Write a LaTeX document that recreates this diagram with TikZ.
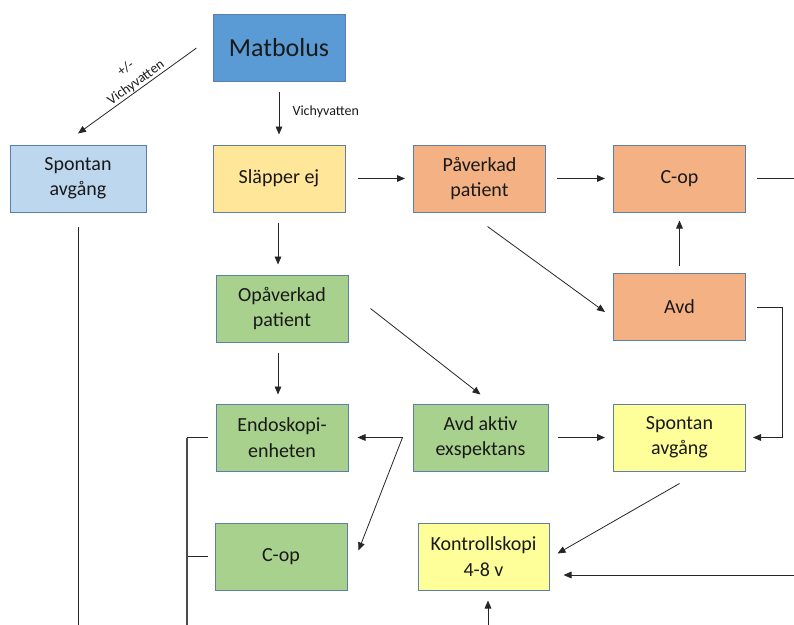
\documentclass[tikz,border=0pt]{standalone}
\usepackage{fontspec}
\setmainfont{Carlito}
\usepackage{xcolor}
\usepackage{tikz}
\usetikzlibrary{arrows.meta,calc,positioning}

\definecolor{mbBlue}{HTML}{5B9BD5}
\definecolor{ljusBlue}{HTML}{BDD7EE}
\definecolor{gulOrange}{HTML}{FFE699}
\definecolor{orange1}{HTML}{F4B183}
\definecolor{gron}{HTML}{A9D18E}
\definecolor{gul}{HTML}{FFFF99}
\definecolor{kant}{HTML}{5A7FAE}

\tikzset{
  box/.style={draw=kant, line width=0.75pt, minimum width=99pt, minimum height=50.25pt,
    align=center, inner sep=2pt, text=black!90, font=\fontsize{15}{19}\selectfont},
  arr/.style={-{Triangle[length=6pt,width=5pt]}, line width=0.6pt, black!85},
  ln/.style={line width=0.6pt, black!85},
  lbl/.style={font=\fontsize{10.5}{12}\selectfont, text=black!90, inner sep=1pt}
}

\begin{document}
\begin{tikzpicture}[x=0.75pt,y=-0.75pt]

\useasboundingbox (0,0) rectangle (794,625);

% boxes
\node[box, fill=mbBlue, font=\fontsize{19.5}{22}\selectfont] (matbolus) at (279,48) {Matbolus};
\node[box, fill=ljusBlue, minimum width=102pt] (spontanA) at (78,178.5) {Spontan\\avgång};% left
\node[box, fill=gulOrange] (slapper) at (279,178.5) {Släpper ej};
\node[box, fill=orange1] (paverkad) at (479.5,178.5) {Påverkad\\patient};
\node[box, fill=orange1] (copA) at (679.5,178.5) {C-op};% top
\node[box, fill=orange1] (avd) at (679.5,307) {Avd};
\node[box, fill=gron] (opaverkad) at (282,308.5) {Opåverkad\\patient};
\node[box, fill=gron] (endo) at (282,437.5) {Endoskopi-\\enheten};
\node[box, fill=gron, minimum width=101.25pt] (aktiv) at (480.5,437.5) {Avd aktiv\\exspektans};
\node[box, fill=gul] (spontanB) at (679.5,437.5) {Spontan\\avgång};% right
\node[box, fill=gron] (copB) at (281,556.5) {C-op};% bottom
\node[box, fill=gul, minimum width=98.25pt] (kontroll) at (483.5,556.5) {Kontrollskopi\\4-8 v};

% free ends at the edges
\coordinate (outA) at (794,178.5);
\coordinate (outL) at (78,625);
\coordinate (brkL) at (187,625);
\coordinate (avdR) at (782,307);
\coordinate (inR) at (794,575);
\coordinate (inB) at (488,625);
\coordinate (split) at ($(aktiv.west)+(-10,0)$);

% from Matbolus
\draw[arr] ($(matbolus.west)+(-16,0)$) -- ($(spontanA.north)+(0,-11)$);
\node[lbl, align=center, rotate=36] (plus) at (131,76) {+/-\\[1pt]Vichyvatten};
\draw[arr, shorten <=7.5pt, shorten >=7.5pt] (matbolus.south) -- (slapper.north);
\node[lbl, anchor=west] (vich) at (291,112) {Vichyvatten};

% row two
\draw[arr, shorten <=9pt, shorten >=6pt] (slapper.east) -- (paverkad.west);
\draw[arr, shorten <=8.25pt, shorten >=6pt] (paverkad.east) -- (copA.west);
\draw[ln, shorten <=8.25pt] (copA.east) -- (outA);
\draw[ln, shorten <=10.5pt] (spontanA.south) -- (outL);
\draw[arr, shorten <=7.5pt, shorten >=7.5pt] ($(slapper.south)+(-1,0)$) -- ($(opaverkad.north)+(-4,0)$);
\draw[arr] ($(paverkad.south)+(8,14)$) -- ($(avd.west)+(-8,5)$);

% Avd
\draw[arr, shorten <=5.25pt, shorten >=6pt] (avd.north) -- (copA.south);
\draw[arr] ($(avd.east)+(11,0)$) -| (avdR |- spontanB.east) -- ($(spontanB.east)+(7,0)$);

% Opåverkad
\draw[arr, shorten <=7.5pt, shorten >=6.75pt] ($(opaverkad.south)+(-4,0)$) -- ($(endo.north)+(-4,0)$);
\draw[arr] ($(opaverkad.east)+(22,0)$) -- ($(aktiv.north)+(0,-9)$);

% Avd aktiv exspektans
\draw[arr, shorten <=6.75pt, shorten >=6pt] (aktiv.east) -- (spontanB.west);
\draw[arr] (split) -- ($(endo.east)+(9,0)$);
\draw[arr] (split) -- ($(copB.east)+(11,-6)$);

% Kontrollskopi
\draw[arr] ($(spontanB.south)+(0,12)$) -- ($(kontroll.east)+(8,-3)$);
\draw[arr, shorten >=10.5pt] (inR) -- (inR -| kontroll.east);
\draw[arr, shorten >=7.5pt] (inB) -- (inB |- kontroll.south);

% left bracket
\draw[ln] ($(endo.west)+(-8,0)$) -- (brkL |- endo.west);
\draw[ln] ($(copB.west)+(-7,0)$) -- (brkL |- copB.west);
\draw[ln, black!70, line width=0.8pt] (brkL |- endo.west) -- (brkL);

\end{tikzpicture}
\end{document}
